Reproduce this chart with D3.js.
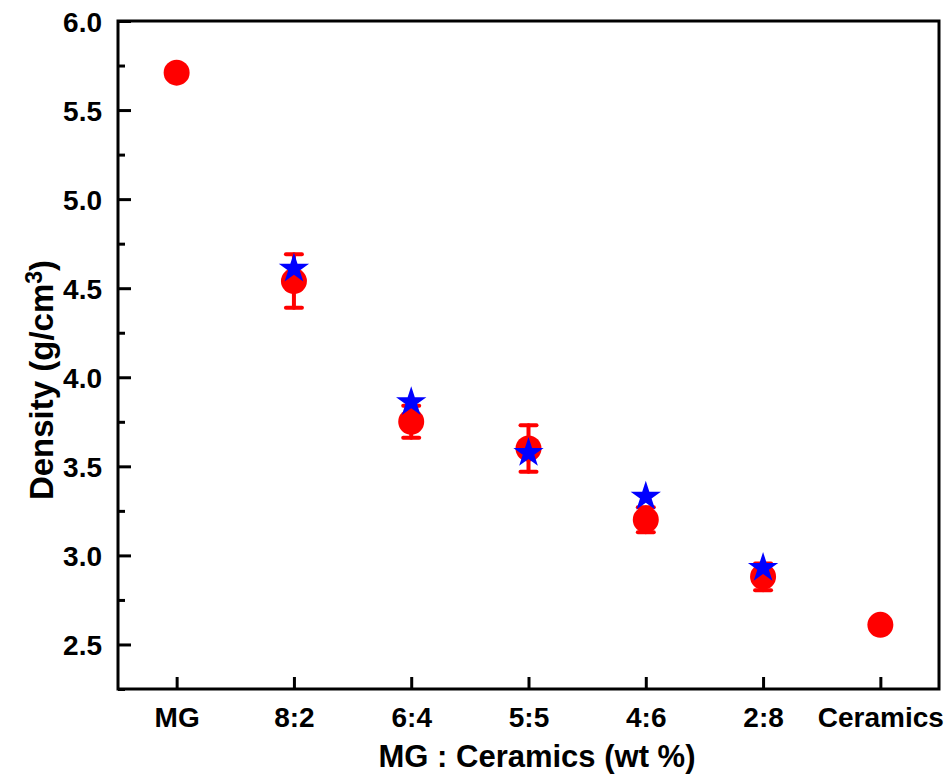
<!DOCTYPE html>
<html>
<head>
<meta charset="utf-8">
<script src="https://cdn.jsdelivr.net/npm/d3@7"></script>
<style>
  body { margin: 0; background: #fff; }
  svg text { font-family: "Liberation Sans", Arial, sans-serif; font-weight: bold; fill: #000; }
</style>
</head>
<body>
<div id="chart"></div>
<script>
// data
var categories = ["MG", "8:2", "6:4", "5:5", "4:6", "2:8", "Ceramics"];
var measured = [5.71, 4.54, 3.75, 3.60, 3.20, 2.88, 2.61];
var measuredErr = [0, 0.15, 0.09, 0.13, 0.07, 0.075, 0];
var theoretical = [null, 4.61, 3.86, 3.575, 3.33, 2.93, null];
var yTicks = [2.5, 3.0, 3.5, 4.0, 4.5, 5.0, 5.5, 6.0];
var yMinorTicks = [2.25, 2.75, 3.25, 3.75, 4.25, 4.75, 5.25, 5.75];

var width = 952, height = 778;
var margin = { left: 118, right: 13, top: 21, bottom: 89 };

var svg = d3.select("#chart").append("svg")
    .attr("width", width)
    .attr("height", height);

var x = d3.scaleLinear()
    .domain([-0.5, categories.length - 0.5])
    .range([margin.left, width - margin.right]);

var y = d3.scaleLinear()
    .domain([2.25, 6.0])
    .range([height - margin.bottom, margin.top]);

// axes, ticks pointing inward
var yAxis = d3.axisLeft(y)
    .tickValues(yTicks)
    .tickSizeInner(-13)
    .tickSizeOuter(0)
    .tickPadding(16)
    .tickFormat(d3.format(".1f"));

var yMinor = d3.axisLeft(y)
    .tickValues(yMinorTicks)
    .tickSizeInner(-7)
    .tickSizeOuter(0)
    .tickFormat("");

var xAxis = d3.axisBottom(x)
    .tickValues(d3.range(categories.length))
    .tickSizeInner(-12)
    .tickSizeOuter(0)
    .tickPadding(18)
    .tickFormat(function (d) { return categories[d]; });

var gy = svg.append("g")
    .attr("transform", "translate(" + margin.left + ",0)")
    .call(yAxis);
svg.append("g")
    .attr("transform", "translate(" + margin.left + ",0)")
    .call(yMinor);
var gx = svg.append("g")
    .attr("transform", "translate(0," + (height - margin.bottom) + ")")
    .call(xAxis);

svg.selectAll(".domain").remove();
svg.selectAll(".tick line").attr("stroke", "#000").attr("stroke-width", 3);
gy.selectAll("text").style("font-size", "28px").attr("dy", "0.36em");
gx.selectAll("text").style("font-size", "28px").attr("dy", "0.71em");

// frame
svg.append("rect")
    .attr("x", margin.left)
    .attr("y", margin.top)
    .attr("width", width - margin.left - margin.right)
    .attr("height", height - margin.top - margin.bottom)
    .attr("fill", "none")
    .attr("stroke", "#000")
    .attr("stroke-width", 3);

// axis titles
svg.append("text")
    .attr("x", 537)
    .attr("y", 767)
    .attr("text-anchor", "middle")
    .style("font-size", "31px")
    .text("MG : Ceramics (wt %)");

var yt = svg.append("text")
    .attr("transform", "translate(53,380) rotate(-90)")
    .attr("text-anchor", "middle")
    .style("font-size", "33px");
yt.append("tspan").text("Density (g/cm");
yt.append("tspan").attr("dy", "-0.5em").style("font-size", "23px").text("3");
yt.append("tspan").attr("dy", "0.35em").text(")");

// error bars
var pts = measured.map(function (v, i) { return { i: i, v: v, e: measuredErr[i] }; });
var withErr = pts.filter(function (d) { return d.e > 0; });

var eb = svg.append("g")
    .attr("stroke", "#ff0000")
    .attr("stroke-width", 4)
    .attr("stroke-linecap", "round");
eb.selectAll("line.v").data(withErr).enter().append("line")
    .attr("x1", function (d) { return x(d.i); })
    .attr("x2", function (d) { return x(d.i); })
    .attr("y1", function (d) { return y(d.v - d.e); })
    .attr("y2", function (d) { return y(d.v + d.e); });
eb.selectAll("line.top").data(withErr).enter().append("line")
    .attr("x1", function (d) { return x(d.i) - 8; })
    .attr("x2", function (d) { return x(d.i) + 8; })
    .attr("y1", function (d) { return y(d.v + d.e); })
    .attr("y2", function (d) { return y(d.v + d.e); });
eb.selectAll("line.bot").data(withErr).enter().append("line")
    .attr("x1", function (d) { return x(d.i) - 8; })
    .attr("x2", function (d) { return x(d.i) + 8; })
    .attr("y1", function (d) { return y(d.v - d.e); })
    .attr("y2", function (d) { return y(d.v - d.e); });

// measured density
svg.append("g").selectAll("circle")
    .data(pts)
    .enter().append("circle")
    .attr("cx", function (d) { return x(d.i); })
    .attr("cy", function (d) { return y(d.v); })
    .attr("r", 13)
    .attr("fill", "#ff0000");

// theoretical density
var star = d3.symbol().type(d3.symbolStar).size(285);
svg.append("g").selectAll("path")
    .data(theoretical.map(function (v, i) { return { i: i, v: v }; })
        .filter(function (d) { return d.v != null; }))
    .enter().append("path")
    .attr("d", star)
    .attr("transform", function (d) { return "translate(" + x(d.i) + "," + y(d.v) + ")"; })
    .attr("fill", "#0000ff");
</script>
</body>
</html>
